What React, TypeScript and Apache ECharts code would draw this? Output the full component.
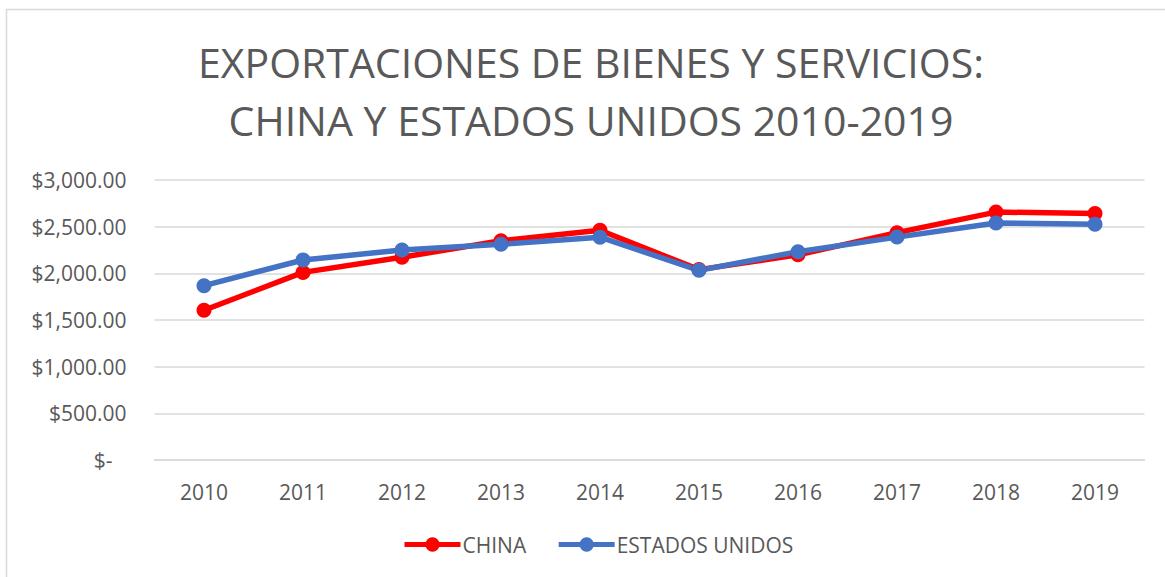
import React, { useEffect, useRef } from "react";
import * as echarts from "echarts";

const years = ["2010", "2011", "2012", "2013", "2014", "2015", "2016", "2017", "2018", "2019"];
const china = [1605, 2010, 2172, 2350, 2462, 2040, 2198, 2436, 2656, 2642];
const usa = [1868, 2143, 2250, 2311, 2387, 2032, 2232, 2388, 2540, 2525];
const titleLines = ["EXPORTACIONES DE BIENES Y SERVICIOS:", "CHINA Y ESTADOS UNIDOS 2010-2019"];

const FONT = "'Open Sans', sans-serif";
const TXT = "#595959";

export default function App() {
  const ref = useRef<HTMLDivElement>(null);
  useEffect(() => {
    document.body.style.margin = "0";
    const chart = echarts.init(ref.current!, undefined, { renderer: "svg" });
    chart.setOption({
      animation: false,
      backgroundColor: "#ffffff",
      graphic: [
        {
          type: "rect",
          shape: { x: 6.5, y: 9.5, width: 1200, height: 620 },
          style: { fill: "none", stroke: "#d9d9d9", lineWidth: 1.5 },
          silent: true,
        },
        {
          type: "text",
          x: 591,
          y: 62,
          style: {
            text: titleLines[0],
            font: `41px ${FONT}`,
            fill: TXT,
            align: "center",
            verticalAlign: "middle",
          },
        },
        {
          type: "text",
          x: 591,
          y: 120,
          style: {
            text: titleLines[1],
            font: `41px ${FONT}`,
            fill: TXT,
            align: "center",
            verticalAlign: "middle",
          },
        },
      ],
      legend: {
        top: 534,
        left: 402,
        padding: 0,
        itemWidth: 56,
        itemHeight: 18,
        itemGap: 30,
        lineStyle: { width: 5 },
        textStyle: { color: TXT, fontSize: 21, fontFamily: FONT, padding: [0, 0, 0, -3] },
        data: ["CHINA", "ESTADOS UNIDOS"],
      },
      grid: { left: 154.5, right: 20.5, top: 180, bottom: 117, containLabel: false },
      xAxis: {
        type: "category",
        data: years,
        boundaryGap: true,
        axisLine: { show: true, lineStyle: { color: "#d9d9d9", width: 1.5 } },
        axisTick: { show: false },
        axisLabel: { color: TXT, fontSize: 21, fontFamily: FONT, margin: 21 },
      },
      yAxis: {
        type: "value",
        min: 0,
        max: 3000,
        interval: 500,
        axisLine: { show: false },
        axisTick: { show: false },
        splitLine: { lineStyle: { color: "#d9d9d9", width: 1.5 } },
        axisLabel: {
          color: TXT,
          fontSize: 21,
          fontFamily: FONT,
          margin: 28,
          formatter: (v: number) =>
            v === 0
              ? "{z|$-}"
              : "$" + v.toLocaleString("en-US", { minimumFractionDigits: 2, maximumFractionDigits: 2 }),
          rich: { z: { color: TXT, fontSize: 21, fontFamily: FONT, padding: [0, 14, 0, 0] } },
        },
      },
      series: [
        {
          name: "CHINA",
          type: "line",
          data: china,
          symbol: "circle",
          symbolSize: 15,
          lineStyle: { color: "#ff0000", width: 5.5 },
          itemStyle: { color: "#ff0000" },
        },
        {
          name: "ESTADOS UNIDOS",
          type: "line",
          data: usa,
          symbol: "circle",
          symbolSize: 15,
          lineStyle: { color: "#4472c4", width: 5.5 },
          itemStyle: { color: "#4472c4" },
        },
      ],
    });
    return () => chart.dispose();
  }, []);
  return <div ref={ref} style={{ width: 1165, height: 577 }} />;
}
